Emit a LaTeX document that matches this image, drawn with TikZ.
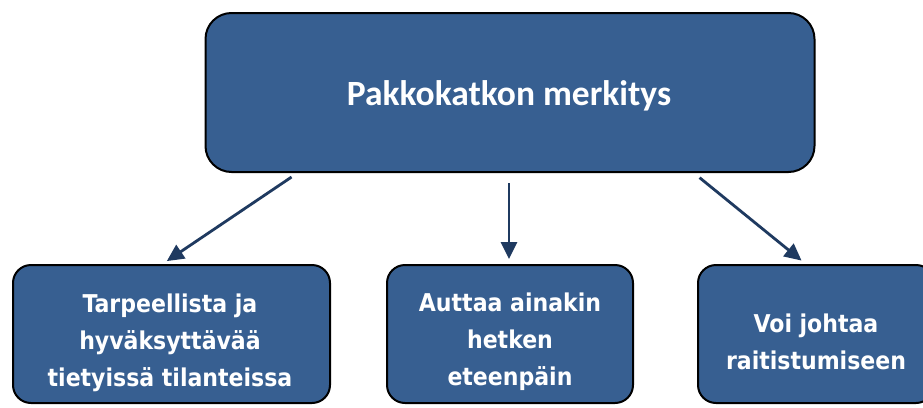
\documentclass[tikz,border=0pt]{standalone}
\usepackage{fontspec}
\newfontfamily\topfont{Carlito}
\newfontfamily\boxfont{DejaVu Sans Condensed}
\usetikzlibrary{arrows.meta}
\definecolor{boxblue}{HTML}{375F91}
\definecolor{arrowblue}{HTML}{1F3A60}
\tikzset{
  box/.style={draw=black, line width=2pt, fill=boxblue, rounded corners=18pt, inner sep=0pt},
  toptext/.style={text=white, font=\topfont\bfseries\fontsize{35.5}{40}\selectfont, align=center},
  btext/.style={text=white, font=\boxfont\bfseries\fontsize{24.5}{37}\selectfont, align=center},
  arr/.style={draw=arrowblue, line width=2.8pt, -{Triangle[length=17pt,width=16pt]}}
}
\begin{document}
\begin{tikzpicture}[x=1pt,y=-1pt]
\useasboundingbox (0,0) rectangle (923,407);
\clip (0,0) rectangle (923,407);
\fill[white] (0,0) rectangle (923,407);
% top box
\node[box, rounded corners=26pt, minimum width=609pt, minimum height=159pt] (top) at (510,92.5) {};
\node[toptext] (toptxt) at (509,96) {Pakkokatkon merkitys};
% bottom boxes
\node[box, minimum width=317pt, minimum height=138pt] (b1) at (171.5,334) {};
\node[btext] (t1) at (170,343) {Tarpeellista ja\\hyväksyttävää\\tietyissä tilanteissa};
\node[box, minimum width=246pt, minimum height=138pt] (b2) at (510,334) {};
\node[btext] (t2) at (510,342) {Auttaa ainakin\\hetken\\eteenpäin};
\node[box, minimum width=236pt, minimum height=138pt] (b3) at (816,334) {};
\node[btext] (t3) at (816,342) {Voi johtaa\\raitistumiseen};
% connector end points on box edges
\coordinate (s1) at (299,172);
\coordinate (e1) at (161,265);
\coordinate (s2) at (509,172);
\coordinate (e2) at (509,265);
\coordinate (s3) at (692.6,172);
\coordinate (e3) at (807,265);
\draw[arr, shorten <=9pt, shorten >=7pt] (s1) -- (e1);
\draw[arr, shorten <=11pt, shorten >=6pt] (s2) -- (e2);
\draw[arr, shorten <=9pt, shorten >=7pt] (s3) -- (e3);
\end{tikzpicture}
\end{document}
